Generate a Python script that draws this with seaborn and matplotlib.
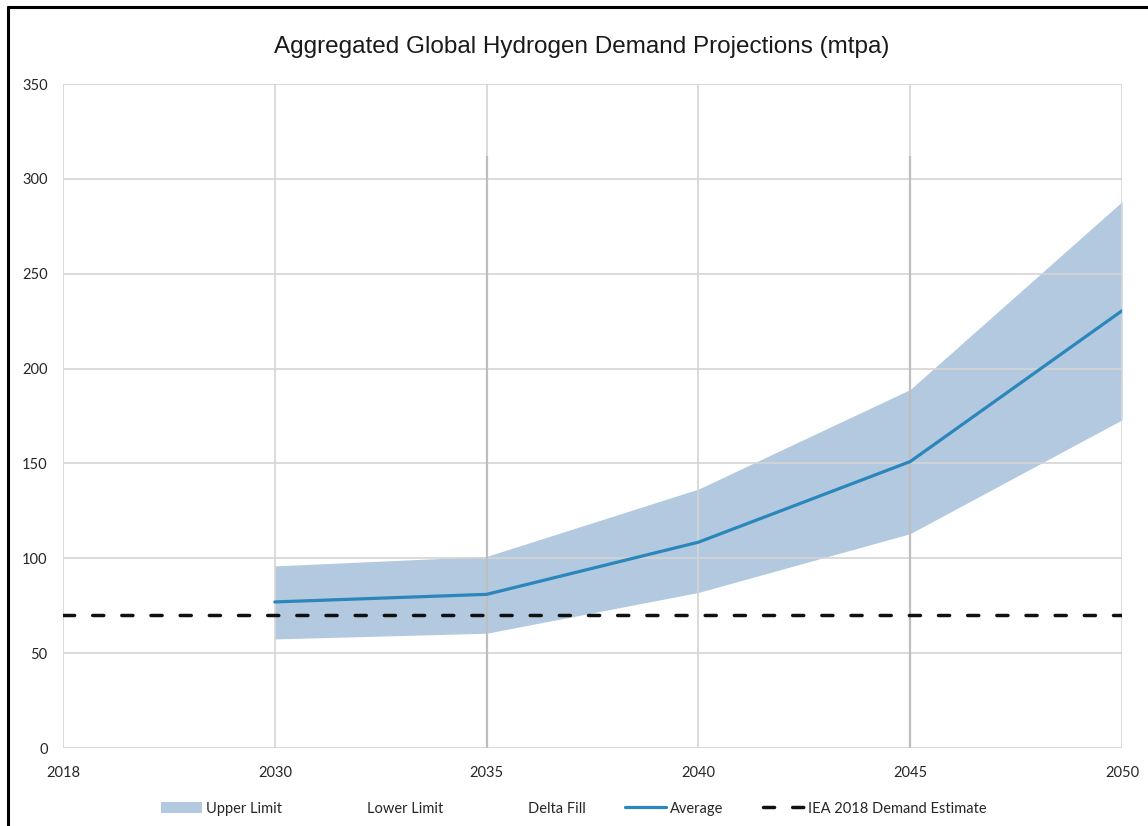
import matplotlib
matplotlib.use("Agg")
import matplotlib.pyplot as plt
from matplotlib.lines import Line2D
from matplotlib.patches import Patch
import seaborn as sns
import pandas as pd
import numpy as np

# Projection data (million tonnes per annum)
years = ["2018", "2030", "2035", "2040", "2045", "2050"]
proj_years = ["2030", "2035", "2040", "2045", "2050"]
upper_limit = [96, 101, 136.5, 189, 288]
lower_limit = [57.5, 60.5, 82, 113, 173]
average = [77, 81, 108.5, 151, 230.5]
iea_2018 = 70
# Leader lines left standing at two of the categories
leader_years = ["2035", "2045"]
leader_top = [312, 312]

sns.set_theme(style="white")
plt.rcParams["font.family"] = ["Lato", "DejaVu Sans"]

fig = plt.figure(figsize=(11.48, 8.26), dpi=100)
ax = fig.add_axes([0.0549, 0.0944, 0.9225, 0.8039])

pos = {y: i for i, y in enumerate(years)}
px = [pos[y] for y in proj_years]

fill_col = "#B3C9E0"
avg_col = "#2A86BB"
grid_col = "#D4D4D4"

ax.fill_between(px, lower_limit, upper_limit, color=fill_col, lw=0, zorder=1)

avg_df = pd.DataFrame({"x": px, "value": average})
sns.lineplot(data=avg_df, x="x", y="value", ax=ax, color=avg_col, lw=2.3, zorder=3)

iea_df = pd.DataFrame({"x": [0, len(years) - 1], "value": [iea_2018, iea_2018]})
sns.lineplot(data=iea_df, x="x", y="value", ax=ax, color="#111111", lw=2.5,
             dashes=False, zorder=4)
iea_line = ax.get_lines()[-1]
iea_line.set_dashes((3.2, 5.2))
iea_line.set_dash_capstyle("round")

ax.vlines([pos[y] for y in leader_years], 0, leader_top, color="#BEBEBE", lw=1.6, zorder=1.6)

ax.set_xlim(0, len(years) - 1)
ax.set_ylim(0, 350)
ax.set_xticks(range(len(years)))
ax.set_xticklabels(years)
ax.set_yticks(np.arange(0, 351, 50))
ax.set_xlabel("")
ax.set_ylabel("")
ax.set_axisbelow("line")
ax.grid(True, color=grid_col, lw=1.2)
for s in ax.spines.values():
    s.set_visible(False)
ax.tick_params(axis="both", length=0, labelsize=10.5, colors="#262626")
ax.tick_params(axis="x", pad=13)
ax.tick_params(axis="y", pad=11)

fig.suptitle("Aggregated Global Hydrogen Demand Projections (mtpa)",
             x=0.507, y=0.957, fontsize=17.5, color="#1a1a1a",
             family=["Liberation Sans Narrow", "Liberation Sans", "DejaVu Sans"])

handles = [
    Patch(facecolor=fill_col, edgecolor="none"),
    Patch(facecolor="none", edgecolor="none"),
    Patch(facecolor="none", edgecolor="none"),
    Line2D([], [], color=avg_col, lw=2.3),
    Line2D([], [], color="#111111", lw=2.5, dashes=(3.2, 5.2), dash_capstyle="round"),
]
labels = ["Upper Limit", "Lower Limit", "Delta Fill", "Average", "IEA 2018 Demand Estimate"]
fig.legend(handles, labels, ncol=5, loc="center", bbox_to_anchor=(0.5, 0.021),
           frameon=False, fontsize=10.5, handlelength=2.8, handleheight=0.8,
           handletextpad=0.3, columnspacing=2.7)

# Chart frame along the left and top edges
fig.add_artist(Line2D([0.0068, 0.0068], [0, 0.991], transform=fig.transFigure,
                      color="black", lw=2.2))
fig.add_artist(Line2D([0.0068, 1.0], [0.991, 0.991], transform=fig.transFigure,
                      color="black", lw=2.2))

fig.savefig("out.png", dpi=100, facecolor="white")
